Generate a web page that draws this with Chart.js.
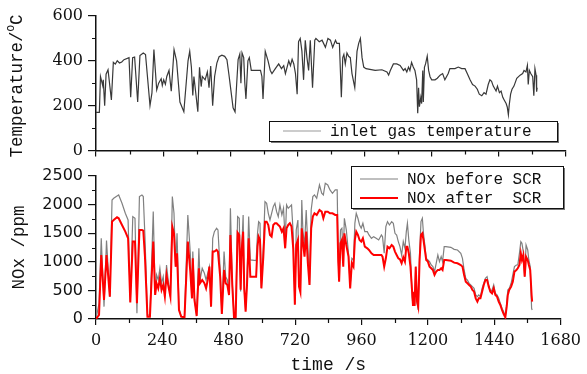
<!DOCTYPE html>
<html>
<head>
<meta charset="utf-8">
<script src="https://cdn.jsdelivr.net/npm/chart.js@4.4.1/dist/chart.umd.min.js"></script>
<style>
html, body { margin: 0; padding: 0; background: #fff; }
#wrap { position: relative; width: 587px; height: 374px; overflow: hidden; }
canvas { position: absolute; left: 0; }
#tempChart { top: 0; }
#noxChart { top: 160px; }
</style>
</head>
<body>
<div id="wrap">
<canvas id="tempChart" width="587" height="165"></canvas>
<canvas id="noxChart" width="587" height="214"></canvas>
</div>
<script>
// ---------- data ----------
// inlet gas temperature (time s, degC)
const tempTime = [0,12,16,24,26,31,36,43,55,62,69,76,84,92,100,118,124,131,138,149,157,169,177,193,200,207,217,224,233,237,242,248,253,261,269,279,288,300,314,329,335,341,346,350,364,370,376,380,390,398,404,410,417,424,432,440,450,460,468,475,483,490,497,503,508,514,518,522,528,532,536,543,548,555,588,593,597,605,615,623,629,641,653,663,671,677,689,695,701,707,713,719,724,730,736,742,748,754,760,766,774,782,786,798,808,820,829,838,846,856,861,870,877,882,886,891,897,903,909,915,925,933,939,945,951,957,965,998,1022,1040,1046,1052,1063,1075,1087,1099,1105,1111,1117,1122,1128,1134,1140,1146,1150,1153,1156,1161,1164,1168,1170,1174,1178,1184,1189,1194,1200,1212,1220,1230,1239,1247,1259,1265,1283,1295,1307,1319,1327,1337,1346,1355,1363,1370,1379,1387,1394,1402,1408,1414,1420,1430,1435,1442,1448,1454,1460,1466,1470,1474,1477,1482,1487,1494,1504,1516,1525,1530,1537,1542,1545,1549,1554,1561,1565,1569,1573,1575,1577];
const tempValues = [170,170,330,290,315,200,340,360,225,393,385,400,390,395,405,414,237,414,417,216,423,435,428,200,257,450,270,300,320,290,315,295,330,357,264,450,400,216,173,400,442,371,245,330,173,371,285,330,315,350,280,377,200,330,390,418,425,420,405,340,260,190,172,300,405,430,300,435,414,300,230,400,414,357,357,330,230,442,400,357,343,365,386,365,378,343,400,378,407,386,343,251,485,500,443,315,492,414,357,492,280,492,500,485,492,460,500,492,460,492,478,478,237,414,428,386,435,420,414,343,280,442,478,500,414,372,365,357,360,350,336,357,386,386,379,357,365,350,372,357,393,372,357,315,166,280,195,237,209,357,216,371,386,421,357,329,315,315,322,336,343,315,343,365,365,372,365,365,343,315,294,287,273,251,244,258,251,294,315,308,287,265,287,258,265,237,223,209,194,159,202,251,273,287,322,336,343,357,350,379,294,357,343,329,244,365,336,262,280];

// NOx (time s, ppm)
const noxTime = [0,11,19,29,38,50,58,64,76,82,94,106,116,124,133,141,148,157,166,171,177,186,195,207,214,219,225,231,237,243,249,255,261,269,276,282,288,293,300,308,320,332,341,347,350,356,364,372,376,384,392,398,404,410,416,422,428,436,441,449,455,463,469,475,481,486,493,499,505,512,518,523,527,532,536,541,546,552,558,579,584,588,593,598,605,611,617,623,629,635,641,647,653,659,665,672,678,684,689,695,701,707,713,719,724,730,734,739,744,748,754,760,766,772,778,784,790,798,808,816,822,829,838,846,855,865,872,876,879,884,889,894,898,905,913,919,925,931,936,941,947,953,959,965,972,981,987,996,1004,1013,1022,1032,1036,1042,1048,1054,1061,1069,1075,1081,1087,1093,1099,1105,1111,1117,1122,1126,1131,1137,1143,1146,1152,1156,1161,1165,1170,1175,1180,1184,1189,1194,1200,1206,1212,1218,1224,1230,1236,1242,1248,1253,1259,1265,1283,1295,1307,1319,1325,1331,1337,1343,1349,1355,1361,1367,1373,1379,1384,1390,1396,1402,1408,1414,1420,1426,1432,1438,1444,1450,1456,1462,1468,1474,1480,1485,1489,1494,1501,1507,1513,1520,1525,1531,1536,1540,1545,1550,1555,1561,1565,1570,1575,1577];
const noxBefore = [0,274,1411,216,1370,391,2081,2110,2151,2169,2023,1848,1731,300,1790,1761,99,2140,2169,2140,1440,70,70,1877,420,770,682,886,624,740,420,944,682,391,2140,1848,915,1498,187,41,41,1819,1149,361,1178,361,70,1236,682,886,799,682,799,915,216,1411,1527,1586,1557,857,99,1178,740,682,420,1936,624,41,41,1790,1761,480,1240,1819,507,157,682,1790,1032,1020,1498,1702,1673,536,1265,2052,2023,1848,1731,1848,1965,2023,1877,1790,1994,1819,1936,1382,1994,1936,1965,1994,1498,260,1557,1731,682,480,2081,1557,1265,1906,1265,595,1906,2140,2169,2110,2344,2198,2169,2373,2344,2256,2198,2256,2256,1050,682,1557,1586,1090,1761,1557,1149,566,1061,1032,1673,1848,1761,1644,1586,1673,1527,1527,1469,1411,1440,1411,1382,1469,1440,1149,1615,1702,1644,1702,1673,1498,1469,1353,1265,1119,1353,1236,1527,1673,1382,1149,391,245,245,915,274,157,1149,1702,1761,1498,1294,1061,1032,1003,944,915,828,974,1119,1003,1090,1003,1265,1265,1253,1218,1207,1149,1061,857,711,682,624,595,566,536,420,391,420,391,536,624,711,740,595,478,507,595,449,420,361,274,187,128,41,274,507,536,624,770,915,944,944,1149,1353,1323,1178,740,1294,1207,1032,915,187,157];
const noxAfter = [0,70,1119,332,1119,391,1702,1731,1778,1761,1644,1527,1411,290,1353,1353,274,1557,1557,1545,1090,41,41,1353,420,624,536,711,507,595,391,770,595,391,1615,1498,915,1149,157,41,29,1353,828,361,1061,332,52,886,624,682,624,536,682,915,216,1178,1178,1207,1178,740,87,857,624,595,420,1469,566,29,29,1510,1469,510,1220,1527,536,128,595,1411,740,740,1265,1440,1382,536,1090,1702,1702,1644,1469,1440,1644,1673,1673,1644,1615,1527,1586,1236,1586,1644,1673,1615,1236,250,1294,1382,566,470,1586,1353,1090,1527,974,595,1586,1790,1848,1819,1906,1877,1761,1877,1877,1848,1848,1819,1819,1000,650,1323,1382,915,1498,1294,1090,536,974,915,1382,1527,1469,1382,1353,1411,1265,1236,1207,1149,1119,1119,1119,1119,1090,915,1061,1265,1236,1294,1265,1178,1119,1061,1044,974,1079,1003,1265,1265,1149,915,478,245,245,915,303,216,1032,1469,1498,1382,1207,1032,1003,915,886,857,770,828,857,857,886,857,1032,1032,1020,985,974,944,915,770,653,624,595,566,507,478,361,303,361,361,478,595,682,682,566,478,449,536,420,391,303,245,157,87,29,216,420,507,566,653,828,857,886,944,1149,1032,1119,740,1090,1032,944,857,420,303];

// tick positions
const timeMinorTicks = [120, 360, 600, 840, 1080, 1320, 1560];
const tempMinorTicks = [100, 300, 500];
const noxMinorTicks = [250, 750, 1250, 1750, 2250];

// ---------- helpers ----------
const ink = '#111';
const monoFont = '"Liberation Mono", monospace';
const plainNumber = v => String(v);   // no thousands separator

function pairs(xs, ys) {
    return xs.map((t, i) => ({ x: t, y: ys[i] }));
}

// short minor ticks, chart.js only gives one tick length
function minorTicksPlugin(yVals, xVals) {
    return {
        id: 'minorTicks',
        afterDraw(chart) {
            const ctx = chart.ctx, a = chart.chartArea;
            const xs = chart.scales.x, ys = chart.scales.y;
            ctx.save();
            ctx.strokeStyle = ink;
            ctx.lineWidth = 1.2;
            ctx.beginPath();
            yVals.forEach(v => {
                const p = Math.round(ys.getPixelForValue(v)) + 0.5;
                ctx.moveTo(a.left - 4, p); ctx.lineTo(a.left, p);
            });
            xVals.forEach(v => {
                const p = Math.round(xs.getPixelForValue(v)) + 0.5;
                ctx.moveTo(p, a.bottom); ctx.lineTo(p, a.bottom + 4);
            });
            ctx.stroke();
            ctx.restore();
        }
    };
}

function legendBox(ctx, x, y, w, h) {
    ctx.fillStyle = '#777';
    ctx.fillRect(x + 2, y + 2, w, h);
    ctx.fillStyle = '#fff';
    ctx.fillRect(x, y, w, h);
    ctx.strokeStyle = ink;
    ctx.lineWidth = 1;
    ctx.strokeRect(x + 0.5, y + 0.5, w, h);
}

function legendRow(ctx, ds, x, y, sampleColor) {
    ctx.strokeStyle = sampleColor || ds.borderColor;
    ctx.lineWidth = ds.borderWidth;
    ctx.beginPath();
    ctx.moveTo(x, y); ctx.lineTo(x + 38, y);
    ctx.stroke();
    ctx.fillStyle = ink;
    ctx.font = '16px ' + monoFont;
    ctx.textBaseline = 'middle';
    ctx.fillText(ds.label, x + 47, y + 1);
}

const tempExtras = {
    id: 'tempExtras',
    afterDraw(chart) {
        const ctx = chart.ctx;
        ctx.save();
        legendBox(ctx, 269, 121, 288, 20);
        legendRow(ctx, chart.data.datasets[0], 283, 131, '#999');
        ctx.restore();

        // y title with raised O
        ctx.save();
        ctx.translate(17, 86);
        ctx.rotate(-Math.PI / 2);
        ctx.fillStyle = ink;
        ctx.textBaseline = 'middle';
        const big = '17.5px ' + monoFont, small = '11px ' + monoFont;
        ctx.font = big;
        const wa = ctx.measureText('Temperature/').width;
        const wc = ctx.measureText('C').width;
        ctx.font = small;
        const wb = ctx.measureText('O').width;
        let x = -(wa + wb + wc) / 2;
        ctx.font = big;
        ctx.fillText('Temperature/', x, 0);
        ctx.font = small;
        ctx.fillText('O', x + wa, -6);
        ctx.font = big;
        ctx.fillText('C', x + wa + wb, 0);
        ctx.restore();
    }
};

const noxLegend = {
    id: 'noxLegend',
    afterDraw(chart) {
        const ctx = chart.ctx;
        const ds = chart.data.datasets;
        ctx.save();
        legendBox(ctx, 351, 6, 212, 42);
        legendRow(ctx, ds[1], 360, 19);
        legendRow(ctx, ds[0], 360, 38);
        ctx.restore();
    }
};

const axisBorder = { color: ink, width: 1.5 };

// ---------- temperature panel ----------
new Chart(document.getElementById('tempChart'), {
    type: 'line',
    data: {
        datasets: [{
            label: 'inlet gas temperature',
            data: pairs(tempTime, tempValues),
            borderColor: '#383838',
            borderWidth: 1.2,
            pointRadius: 0,
            tension: 0
        }]
    },
    options: {
        responsive: false,
        animation: false,
        devicePixelRatio: 1,
        layout: { autoPadding: false, padding: { left: 0, right: 21, top: 16, bottom: 0 } },
        plugins: { legend: { display: false }, tooltip: { enabled: false } },
        scales: {
            x: {
                type: 'linear', min: 0, max: 1680,
                ticks: { stepSize: 240, display: false },
                grid: { drawOnChartArea: false, tickLength: 6, color: ink, lineWidth: 1.2 },
                border: axisBorder,
                afterFit: s => { s.height = 8; }
            },
            y: {
                min: 0, max: 600,
                ticks: { stepSize: 200, color: ink, padding: 5, callback: plainNumber, font: { family: 'DejaVu Serif', size: 16 } },
                grid: { drawOnChartArea: false, tickLength: 8, color: ink, lineWidth: 1.2 },
                border: axisBorder,
                afterFit: s => { s.width = 96; }
            }
        }
    },
    plugins: [minorTicksPlugin(tempMinorTicks, timeMinorTicks), tempExtras]
});

// ---------- NOx panel ----------
new Chart(document.getElementById('noxChart'), {
    type: 'line',
    data: {
        datasets: [{
            label: 'NOx after  SCR',
            data: pairs(noxTime, noxAfter),
            borderColor: '#ff0000',
            borderWidth: 2,
            pointRadius: 0,
            tension: 0,
            order: 0
        }, {
            label: 'NOx before SCR',
            data: pairs(noxTime, noxBefore),
            borderColor: '#808080',
            borderWidth: 1.2,
            pointRadius: 0,
            tension: 0,
            order: 1
        }]
    },
    options: {
        responsive: false,
        animation: false,
        devicePixelRatio: 1,
        layout: { autoPadding: false, padding: { left: 0, right: 21, top: 16, bottom: 0 } },
        plugins: { legend: { display: false }, tooltip: { enabled: false } },
        scales: {
            x: {
                type: 'linear', min: 0, max: 1680,
                ticks: { stepSize: 240, color: ink, padding: 6, maxRotation: 0, autoSkip: false, callback: plainNumber, font: { family: 'DejaVu Serif', size: 16 } },
                grid: { drawOnChartArea: false, tickLength: 6, color: ink, lineWidth: 1.2 },
                border: axisBorder,
                title: { display: true, text: 'time /s', color: ink, padding: { top: 0, bottom: 0 }, font: { family: monoFont, size: 18, lineHeight: 1 } },
                afterFit: s => { s.height = 55; }
            },
            y: {
                min: 0, max: 2500,
                ticks: { stepSize: 500, color: ink, padding: 5, callback: plainNumber, font: { family: 'DejaVu Sans', size: 16 } },
                grid: { drawOnChartArea: false, tickLength: 8, color: ink, lineWidth: 1.2 },
                border: axisBorder,
                title: { display: true, text: 'NOx /ppm', color: ink, padding: { top: 9, bottom: 0 }, font: { family: monoFont, size: 17.5, lineHeight: 1.2 } },
                afterFit: s => { s.width = 96; }
            }
        }
    },
    plugins: [minorTicksPlugin(noxMinorTicks, timeMinorTicks), noxLegend]
});
</script>
</body>
</html>
